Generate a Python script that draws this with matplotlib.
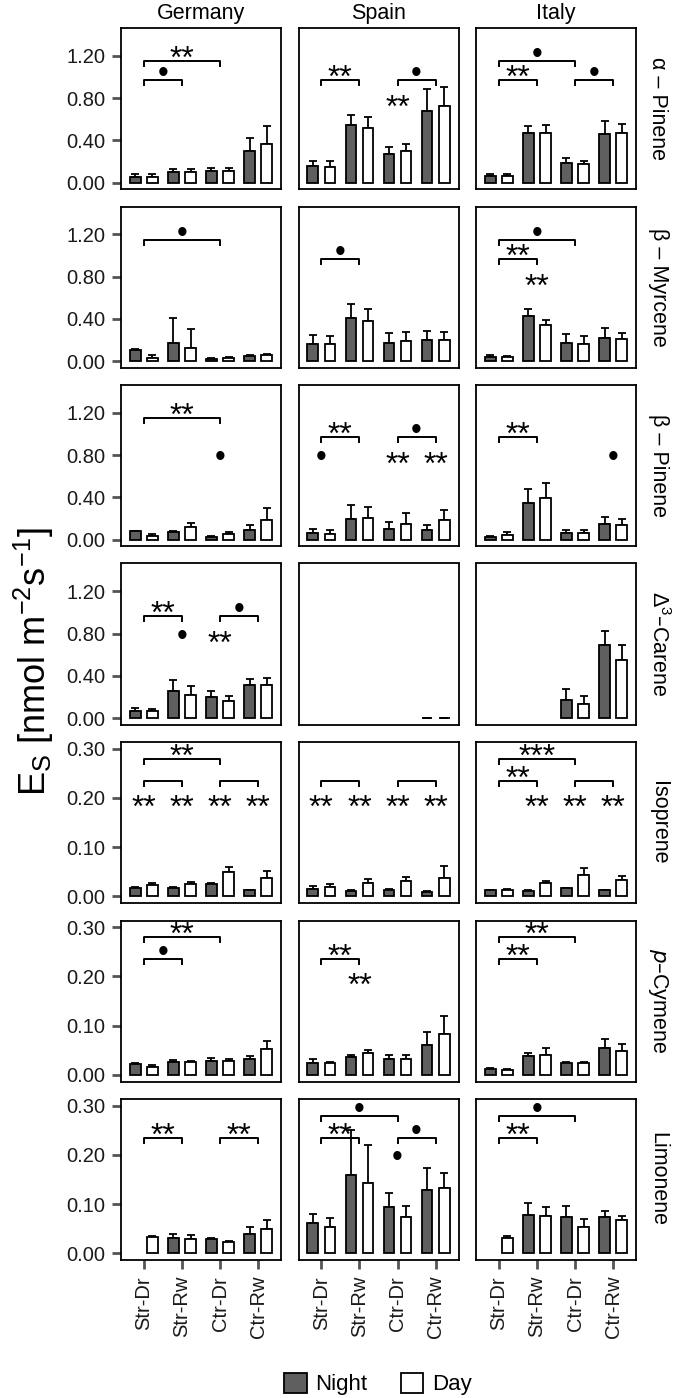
import matplotlib
matplotlib.use('Agg')
import matplotlib.pyplot as plt
from matplotlib.patches import Patch
import numpy as np

plt.rcParams['font.family'] = ['Liberation Sans', 'DejaVu Sans']
plt.rcParams['mathtext.default'] = 'regular'

nan = np.nan

sites = ['Germany', 'Spain', 'Italy']
treatments = ['Str-Dr', 'Str-Rw', 'Ctr-Dr', 'Ctr-Rw']
compounds = ['α – Pinene', 'β – Myrcene', 'β – Pinene', '$\\Delta^{3}$–Carene',
             'Isoprene', '$\\mathit{p}$–Cymene', 'Limonene']
big_scale = [True, True, True, True, False, False, False]

# mean emission per compound -> site -> treatment (night / day)
night = [
    [[0.05, 0.10, 0.11, 0.30], [0.155, 0.55, 0.27, 0.68], [0.06, 0.475, 0.19, 0.465]],
    [[0.11, 0.175, 0.025, 0.048], [0.16, 0.41, 0.175, 0.197], [0.038, 0.43, 0.168, 0.22]],
    [[0.079, 0.072, 0.028, 0.094], [0.063, 0.198, 0.098, 0.091], [0.028, 0.343, 0.06, 0.151]],
    [[0.064, 0.26, 0.20, 0.318], [nan, nan, nan, 0.005], [nan, nan, 0.17, 0.696]],
    [[0.0156, 0.0156, 0.0237, 0.0115], [0.015, 0.010, 0.0135, 0.0088], [0.012, 0.010, 0.0156, 0.0115]],
    [[0.021, 0.026, 0.0287, 0.031], [0.023, 0.035, 0.031, 0.0594], [0.0116, 0.0376, 0.023, 0.0546]],
    [[nan, 0.030, 0.0286, 0.0388], [0.0605, 0.159, 0.093, 0.129], [nan, 0.078, 0.073, 0.073]],
]
night_se = [
    [[0.03, 0.03, 0.03, 0.12], [0.05, 0.09, 0.07, 0.21], [0.02, 0.065, 0.045, 0.12]],
    [[0.005, 0.23, 0.007, 0.01], [0.085, 0.13, 0.095, 0.085], [0.016, 0.06, 0.086, 0.09]],
    [[0.006, 0.008, 0.007, 0.046], [0.035, 0.127, 0.07, 0.051], [0.007, 0.133, 0.034, 0.063]],
    [[0.031, 0.106, 0.058, 0.054], [nan, nan, nan, 0.0], [nan, nan, 0.107, 0.134]],
    [[0.0024, 0.002, 0.0023, 0.0015], [0.005, 0.0015, 0.002, 0.0012], [0.0015, 0.0015, 0.0015, 0.0015]],
    [[0.003, 0.003, 0.0043, 0.0066], [0.008, 0.004, 0.010, 0.0273], [0.0014, 0.0068, 0.002, 0.0171]],
    [[nan, 0.0088, 0.0014, 0.0136], [0.0185, 0.091, 0.0294, 0.044], [nan, 0.024, 0.023, 0.0127]],
]
day = [
    [[0.05, 0.10, 0.11, 0.37], [0.15, 0.515, 0.30, 0.73], [0.065, 0.47, 0.175, 0.47]],
    [[0.032, 0.127, 0.032, 0.054], [0.16, 0.38, 0.19, 0.197], [0.035, 0.34, 0.165, 0.21]],
    [[0.031, 0.117, 0.057, 0.19], [0.057, 0.205, 0.151, 0.19], [0.047, 0.394, 0.063, 0.135]],
    [[0.064, 0.223, 0.16, 0.318], [nan, nan, nan, 0.005], [nan, nan, 0.134, 0.547]],
    [[0.0217, 0.025, 0.050, 0.036], [0.018, 0.026, 0.030, 0.037], [0.013, 0.027, 0.044, 0.033]],
    [[0.0164, 0.025, 0.028, 0.0526], [0.024, 0.0444, 0.031, 0.0833], [0.010, 0.041, 0.024, 0.0485]],
    [[0.0333, 0.028, 0.0218, 0.050], [0.054, 0.1435, 0.0728, 0.132], [0.0313, 0.0755, 0.054, 0.0673]],
]
day_se = [
    [[0.03, 0.03, 0.025, 0.17], [0.055, 0.11, 0.065, 0.18], [0.015, 0.075, 0.03, 0.09]],
    [[0.025, 0.175, 0.006, 0.01], [0.075, 0.11, 0.09, 0.075], [0.01, 0.05, 0.07, 0.055]],
    [[0.026, 0.043, 0.015, 0.11], [0.031, 0.105, 0.104, 0.087], [0.025, 0.141, 0.031, 0.057]],
    [[0.025, 0.077, 0.047, 0.06], [nan, nan, nan, 0.0], [nan, nan, 0.076, 0.149]],
    [[0.0053, 0.004, 0.010, 0.015], [0.006, 0.008, 0.009, 0.024], [0.0015, 0.003, 0.0135, 0.0076]],
    [[0.004, 0.002, 0.003, 0.015], [0.0026, 0.0061, 0.009, 0.0357], [0.002, 0.013, 0.002, 0.013]],
    [[0.0014, 0.008, 0.0022, 0.018], [0.0174, 0.0765, 0.0238, 0.032], [0.0034, 0.019, 0.0147, 0.0075]],
]

# significance brackets: (row, col, from, to, level, label)
brackets = [
    (0, 0, 1, 3, 'hi', '**'), (0, 0, 1, 2, 'lo', '•'),
    (0, 1, 1, 2, 'lo', '**'), (0, 1, 3, 4, 'lo', '•'),
    (0, 2, 1, 3, 'hi', '•'), (0, 2, 1, 2, 'lo', '**'), (0, 2, 3, 4, 'lo', '•'),
    (1, 0, 1, 3, 'hi', '•'), (1, 1, 1, 2, 'lo', '•'),
    (1, 2, 1, 3, 'hi', '•'), (1, 2, 1, 2, 'lo', '**'),
    (2, 0, 1, 3, 'hi', '**'), (2, 1, 1, 2, 'lo', '**'), (2, 1, 3, 4, 'lo', '•'),
    (2, 2, 1, 2, 'lo', '**'),
    (3, 0, 1, 2, 'lo', '**'), (3, 0, 3, 4, 'lo', '•'),
    (4, 0, 1, 3, 'hi', '**'), (4, 0, 1, 2, 'lo', ''), (4, 0, 3, 4, 'lo', ''),
    (4, 1, 1, 2, 'lo', ''), (4, 1, 3, 4, 'lo', ''),
    (4, 2, 1, 3, 'hi', '***'), (4, 2, 1, 2, 'lo', '**'), (4, 2, 3, 4, 'lo', ''),
    (5, 0, 1, 3, 'hi', '**'), (5, 0, 1, 2, 'lo', '•'), (5, 1, 1, 2, 'lo', '**'),
    (5, 2, 1, 3, 'hi', '**'), (5, 2, 1, 2, 'lo', '**'),
    (6, 0, 1, 2, 'lo', '**'), (6, 0, 3, 4, 'lo', '**'),
    (6, 1, 1, 3, 'hi', '•'), (6, 1, 1, 2, 'lo', '**'), (6, 1, 3, 4, 'lo', '•'),
    (6, 2, 1, 3, 'hi', '•'), (6, 2, 1, 2, 'lo', '**'),
]
# night vs day marks: (row, col, treatment, label)
marks = [
    (0, 1, 3, '**'), (1, 2, 2, '**'),
    (2, 0, 3, '•'), (2, 1, 1, '•'), (2, 1, 3, '**'), (2, 1, 4, '**'), (2, 2, 4, '•'),
    (3, 0, 2, '•'), (3, 0, 3, '**'),
    (4, 0, 1, '**'), (4, 0, 2, '**'), (4, 0, 3, '**'), (4, 0, 4, '**'),
    (4, 1, 1, '**'), (4, 1, 2, '**'), (4, 1, 3, '**'), (4, 1, 4, '**'),
    (4, 2, 2, '**'), (4, 2, 3, '**'), (4, 2, 4, '**'),
    (5, 1, 2, '**'), (6, 1, 3, '•'),
]

night_col = '#5f5f5f'
W, H = 674, 1398
fig = plt.figure(figsize=(W / 100, H / 100), dpi=100)


def sig_text(ax, label, xy, standalone):
    # font size and baseline shift (points) so the glyphs sit like the original
    if label == '•':
        size, dy = 22, (-8 if standalone else -1.5)
    else:
        size, dy = 23, (-13.5 if standalone else -5)
    ax.annotate(label, xy, xytext=(0, dy), textcoords='offset points',
                ha='center', va='baseline', fontsize=size)


x = np.arange(1, 5)
off, bw = 0.225, 0.28
axes = {}
for r, comp in enumerate(compounds):
    for c, site in enumerate(sites):
        left, top = 121 + c * 177.5, 28 + r * 178.5
        ax = fig.add_axes([left / W, 1 - (top + 161) / H, 160 / W, 161 / H])
        axes[r, c] = ax
        for vals, errs, shift, fc in [(night, night_se, -off, night_col),
                                      (day, day_se, off, 'white')]:
            m = np.array(vals[r][c])
            e = np.array(errs[r][c])
            ok = ~np.isnan(m)
            ax.errorbar(x[ok] + shift, m[ok], yerr=[np.zeros(ok.sum()), e[ok]],
                        fmt='none', ecolor='black', elinewidth=1.3,
                        capsize=2.6, capthick=1.3, zorder=1)
            ax.bar(x[ok] + shift, m[ok], width=bw, color=fc,
                   edgecolor='black', linewidth=1.3, zorder=2)

        if big_scale[r]:
            ax.set_ylim(-0.06, 1.465)
            ax.set_yticks([0, 0.4, 0.8, 1.2])
        else:
            ax.set_ylim(-0.014, 0.314)
            ax.set_yticks([0, 0.1, 0.2, 0.3])
        ax.set_xlim(0.4, 4.6)
        ax.set_xticks(x)
        ax.set_yticklabels(['%.2f' % v for v in ax.get_yticks()])
        ax.set_xticklabels(treatments, rotation=90)
        ax.tick_params(axis='both', length=6.5, width=2, color='#555555',
                       labelsize=14.5, labelcolor='#1a1a1a', pad=5)
        ax.tick_params(left=(c == 0), labelleft=(c == 0),
                       bottom=(r == 6), labelbottom=(r == 6))
        for sp in ax.spines.values():
            sp.set_linewidth(1.3)
        if r == 0:
            ax.text(0.5, 1 + 14 / 161, site, transform=ax.transAxes,
                    ha='center', va='center', fontsize=15.5)
        if c == 2:
            ax.text(1 + 22 / 160, 0.5, comp, transform=ax.transAxes,
                    ha='center', va='center', rotation=-90, fontsize=15.5)

for r, c, a, b, level, label in brackets:
    ax = axes[r, c]
    lo, hi = ax.get_ylim()
    if big_scale[r]:
        yb = 1.15 if level == 'hi' else 0.97
    else:
        yb = 0.28 if level == 'hi' else 0.235
    tick = 0.031 * (hi - lo)
    ax.plot([a, a, b, b], [yb - tick, yb, yb, yb - tick], color='black', lw=1.4)
    if label:
        sig_text(ax, label, ((a + b) / 2, yb), False)

for r, c, t, label in marks:
    ax = axes[r, c]
    sig_text(ax, label, (t, 0.8 if big_scale[r] else 0.2), True)

fig.text(34 / W, 1 - 662 / H, 'E$_S$ [nmol m$^{-2}$s$^{-1}$]', rotation=90,
         ha='center', va='center', fontsize=26)

handles = [Patch(facecolor=night_col, edgecolor='black', lw=1.3, label='Night'),
           Patch(facecolor='white', edgecolor='black', lw=1.3, label='Day')]
fig.legend(handles=handles, loc='center', bbox_to_anchor=(378 / W, 1 - 1384 / H),
           ncol=2, frameon=False, fontsize=16, handlelength=1.0, handleheight=1.0,
           handletextpad=0.4, columnspacing=1.5)

fig.savefig('out.png', dpi=100)
